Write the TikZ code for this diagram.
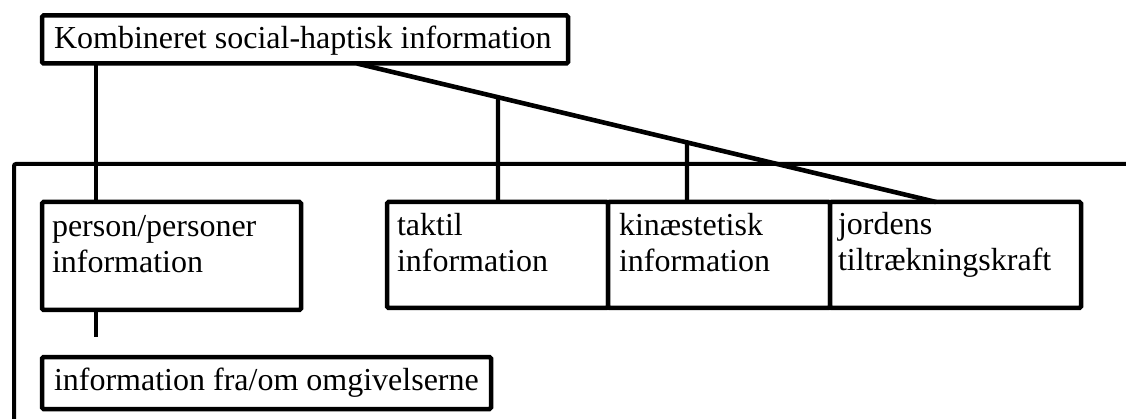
\documentclass[tikz,border=0pt]{standalone}
\usepackage{fontspec}
\setmainfont{Liberation Serif}
\usetikzlibrary{intersections,calc}
\begin{document}
\begin{tikzpicture}[x=1pt,y=-1pt,
  box/.style={draw=black, fill=white, line width=4.5pt, rounded corners=1.5pt,
    inner sep=0pt, outer sep=0pt, anchor=north west},
  txt/.style={inner sep=0pt, outer sep=0pt, anchor=north west, align=left,
    font=\fontsize{32}{36}\selectfont},
  conn/.style={draw=black, line width=4.2pt},
  diagline/.style={draw=black, line width=4.6pt},
  frameline/.style={draw=black, line width=4pt, rounded corners=2pt}]
\useasboundingbox (0,0) rectangle (1126,419);
\clip (0,0) rectangle (1126,419);
% outer frame
\draw[frameline] (14,440) -- (14,164) -- (1140,164);
% boxes
\node[box, minimum width=526pt, minimum height=48pt] (top) at (42,15.5) {};
\node[box, minimum width=259pt, minimum height=108pt] (person) at (42,202) {};
\node[box, minimum width=221pt, minimum height=106pt] (taktil) at (387,202) {};
\node[box, minimum width=222pt, minimum height=106pt] (kin) at (608,202) {};
\node[box, minimum width=251pt, minimum height=106pt] (jord) at (830,202) {};
\node[box, minimum width=449pt, minimum height=52pt] (omg) at (42,357) {};
% texts
\node[txt] (ttop) at (54,24) {\rule{0pt}{25pt}Kombineret social-haptisk information};
\node[txt] (tperson) at (52,211.5) {\rule{0pt}{25pt}person/personer\\information};
\node[txt] (ttaktil) at (397,210.5) {\rule{0pt}{25pt}taktil\\information};
\node[txt] (tkin) at (619,210.5) {\rule{0pt}{25pt}kinæstetisk\\information};
\node[txt] (tjord) at (838,209.5) {\rule{0pt}{25pt}jordens\\tiltrækningskraft};
\node[txt] (tomg) at (54,365) {\rule{0pt}{25pt}information fra/om omgivelserne};
% connectors
\draw[conn] ([xshift=54pt]top.south west) -- ([xshift=54pt]person.north west);
\coordinate (stubend) at (96,337);
\draw[conn] ([xshift=54pt]person.south west) -- (stubend);
\coordinate (ds) at ([xshift=315pt]top.south west);
\coordinate (de) at ([xshift=106pt]jord.north west);
\draw[diagline, name path=diag] (ds) -- (de);
\coordinate (vt) at ([xshift=111pt]taktil.north west);
\coordinate (vk) at ([xshift=79pt]kin.north west);
\path[name path=pt] (vt) -- ++(0,-150);
\path[name path=pk] (vk) -- ++(0,-150);
\draw[conn, name intersections={of=diag and pt, by=it}] (vt) -- (it);
\draw[conn, name intersections={of=diag and pk, by=ik}] (vk) -- (ik);
\end{tikzpicture}
\end{document}
